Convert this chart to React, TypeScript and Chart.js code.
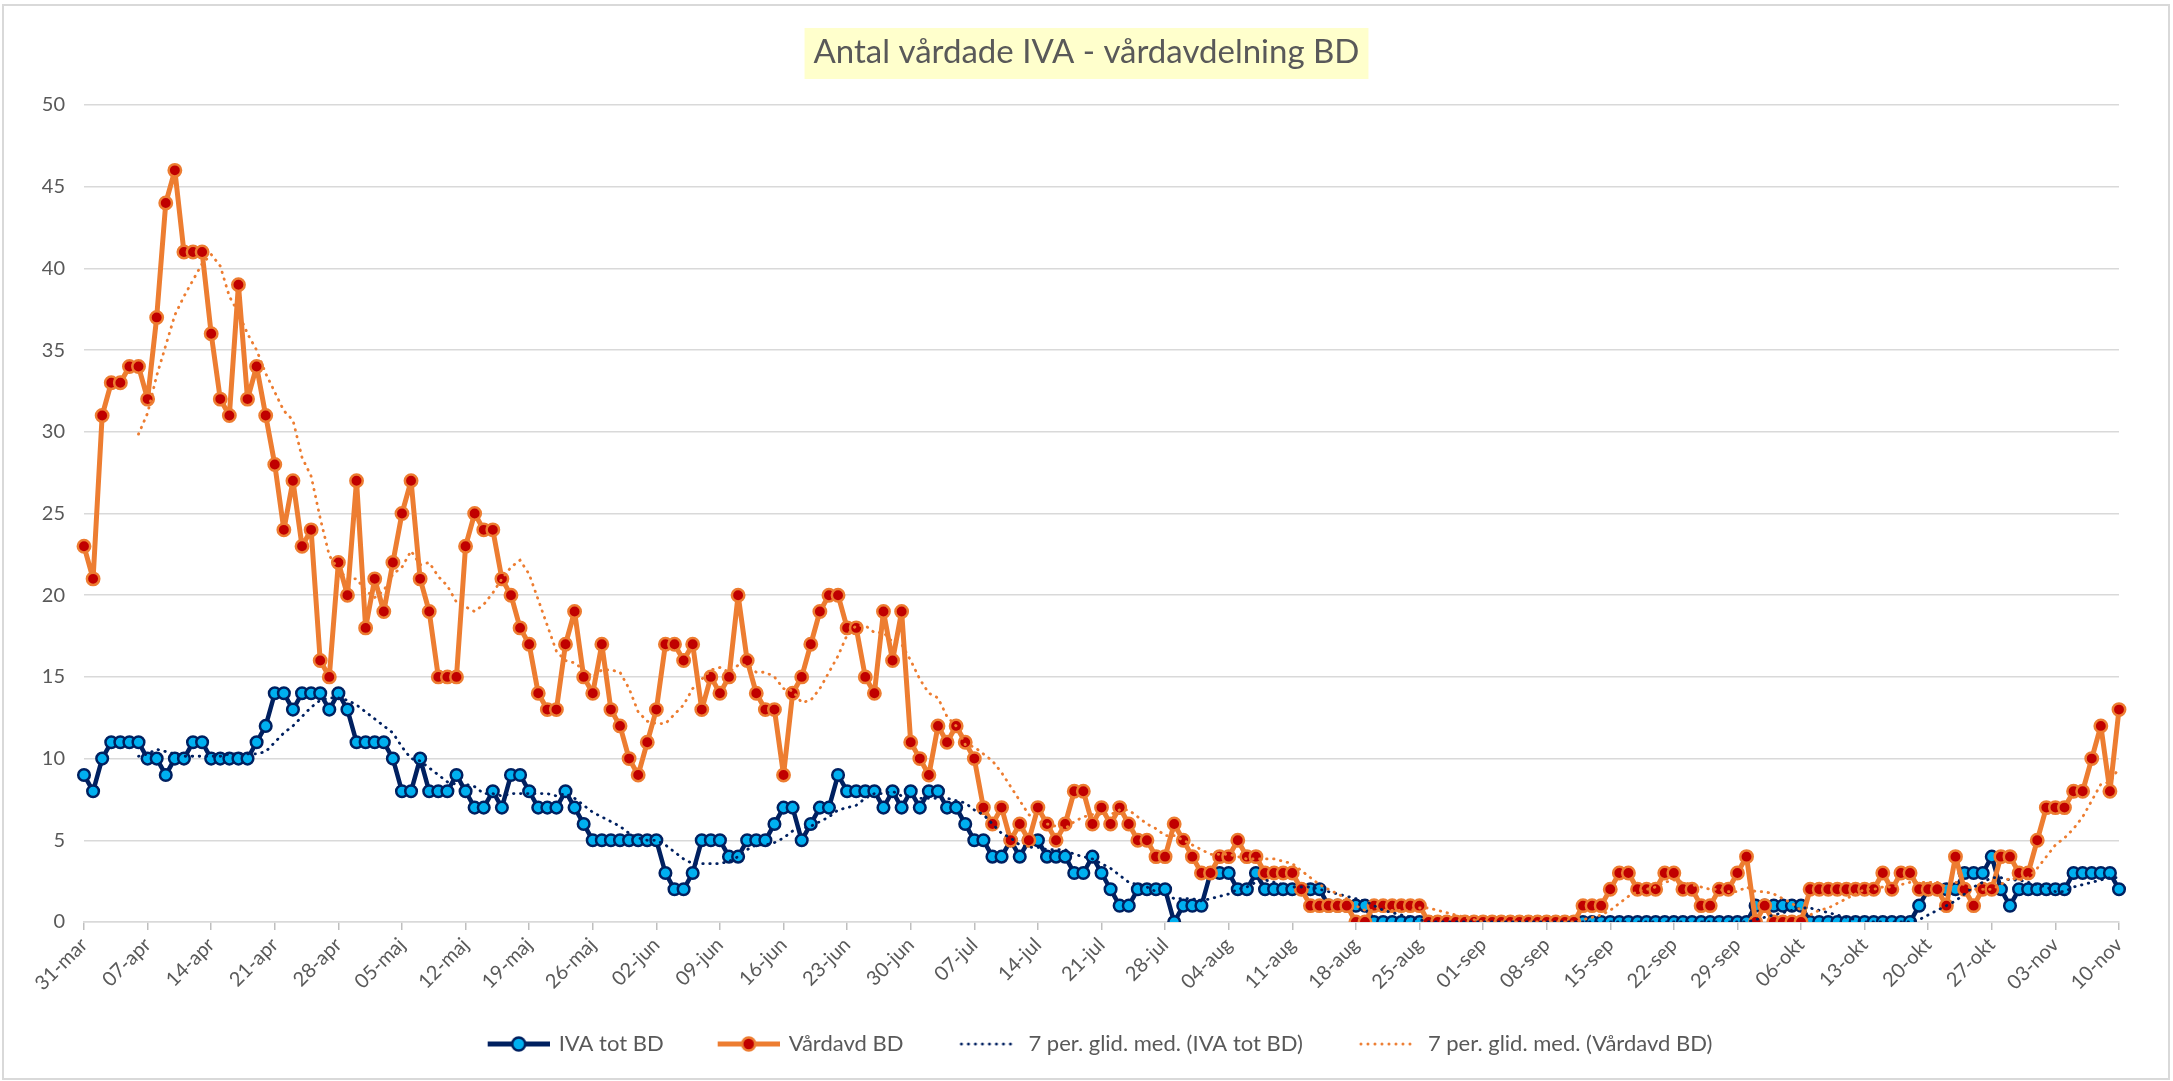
import React, { useEffect, useRef } from 'react';
import { Chart, registerables } from 'chart.js';

Chart.register(...registerables);

const W = 2173;
const H = 1081;
const FONT = 'Lato';
const TEXT_COLOR = '#595959';
const GRID_COLOR = '#D9D9D9';

const TITLE = 'Antal vårdade IVA - vårdavdelning BD';
const SERIES_NAMES = ['IVA tot BD', 'Vårdavd BD', '7 per. glid. med. (IVA tot BD)', '7 per. glid. med. (Vårdavd BD)'];
const MONTHS = ['jan', 'feb', 'mar', 'apr', 'maj', 'jun', 'jul', 'aug', 'sep', 'okt', 'nov', 'dec'];
const FIRST_DATE = [2020, 2, 31];
const TICK_EVERY = 7;
const MA_PERIOD = 7;
const Y_MIN = 0;
const Y_MAX = 50;
const Y_STEP = 5;

// IVA tot BD, daily from 31-mar to 10-nov
const IVA_TOT_BD = [
  9, 8, 10, 11, 11, 11, 11, 10, 10, 9,
  10, 10, 11, 11, 10, 10, 10, 10, 10, 11,
  12, 14, 14, 13, 14, 14, 14, 13, 14, 13,
  11, 11, 11, 11, 10, 8, 8, 10, 8, 8,
  8, 9, 8, 7, 7, 8, 7, 9, 9, 8,
  7, 7, 7, 8, 7, 6, 5, 5, 5, 5,
  5, 5, 5, 5, 3, 2, 2, 3, 5, 5,
  5, 4, 4, 5, 5, 5, 6, 7, 7, 5,
  6, 7, 7, 9, 8, 8, 8, 8, 7, 8,
  7, 8, 7, 8, 8, 7, 7, 6, 5, 5,
  4, 4, 5, 4, 5, 5, 4, 4, 4, 3,
  3, 4, 3, 2, 1, 1, 2, 2, 2, 2,
  0, 1, 1, 1, 3, 3, 3, 2, 2, 3,
  2, 2, 2, 2, 2, 2, 2, 1, 1, 1,
  1, 1, 0, 0, 0, 0, 0, 0, 0, 0,
  0, 0, 0, 0, 0, 0, 0, 0, 0, 0,
  0, 0, 0, 0, 0, 0, 0, 0, 0, 0,
  0, 0, 0, 0, 0, 0, 0, 0, 0, 0,
  0, 0, 0, 0, 1, 1, 1, 1, 1, 1,
  0, 0, 0, 0, 0, 0, 0, 0, 0, 0,
  0, 0, 1, 2, 2, 2, 2, 3, 3, 3,
  4, 2, 1, 2, 2, 2, 2, 2, 2, 3,
  3, 3, 3, 3, 2,
];

// Vårdavd BD, daily from 31-mar to 10-nov
const VARDAVD_BD = [
  23, 21, 31, 33, 33, 34, 34, 32, 37, 44,
  46, 41, 41, 41, 36, 32, 31, 39, 32, 34,
  31, 28, 24, 27, 23, 24, 16, 15, 22, 20,
  27, 18, 21, 19, 22, 25, 27, 21, 19, 15,
  15, 15, 23, 25, 24, 24, 21, 20, 18, 17,
  14, 13, 13, 17, 19, 15, 14, 17, 13, 12,
  10, 9, 11, 13, 17, 17, 16, 17, 13, 15,
  14, 15, 20, 16, 14, 13, 13, 9, 14, 15,
  17, 19, 20, 20, 18, 18, 15, 14, 19, 16,
  19, 11, 10, 9, 12, 11, 12, 11, 10, 7,
  6, 7, 5, 6, 5, 7, 6, 5, 6, 8,
  8, 6, 7, 6, 7, 6, 5, 5, 4, 4,
  6, 5, 4, 3, 3, 4, 4, 5, 4, 4,
  3, 3, 3, 3, 2, 1, 1, 1, 1, 1,
  0, 0, 1, 1, 1, 1, 1, 1, 0, 0,
  0, 0, 0, 0, 0, 0, 0, 0, 0, 0,
  0, 0, 0, 0, 0, 1, 1, 1, 2, 3,
  3, 2, 2, 2, 3, 3, 2, 2, 1, 1,
  2, 2, 3, 4, 0, 1, 0, 0, 0, 0,
  2, 2, 2, 2, 2, 2, 2, 2, 3, 2,
  3, 3, 2, 2, 2, 1, 4, 2, 1, 2,
  2, 4, 4, 3, 3, 5, 7, 7, 7, 8,
  8, 10, 12, 8, 13,
];

const CATEGORIES = IVA_TOT_BD.map((_, i) => {
  const d = new Date(FIRST_DATE[0], FIRST_DATE[1], FIRST_DATE[2] + i);
  return `${String(d.getDate()).padStart(2, '0')}-${MONTHS[d.getMonth()]}`;
});

// Excel-style trailing moving average trendline
function movingAverage(values: number[], period: number): (number | null)[] {
  return values.map((_, i) => {
    if (i < period - 1) return null;
    let s = 0;
    for (let k = i - period + 1; k <= i; k++) s += values[k];
    return s / period;
  });
}

const ICON_GAP = 29;
const ICON_SYMBOL_W = 62;

function makeIcon(line: string, fill: string | null, stroke: string | null, dotted: boolean): HTMLCanvasElement {
  const c = document.createElement('canvas');
  c.width = ICON_GAP + ICON_SYMBOL_W;
  c.height = 22;
  const g = c.getContext('2d')!;
  const x0 = ICON_GAP;
  if (dotted) {
    g.fillStyle = line;
    for (let x = x0 + 4; x <= x0 + 58; x += 7) {
      g.beginPath();
      g.arc(x, 11, 1.5, 0, Math.PI * 2);
      g.fill();
    }
  } else {
    g.strokeStyle = line;
    g.lineWidth = 5;
    g.beginPath();
    g.moveTo(x0, 11);
    g.lineTo(x0 + ICON_SYMBOL_W, 11);
    g.stroke();
    g.beginPath();
    g.arc(x0 + ICON_SYMBOL_W / 2, 11, 6.5, 0, Math.PI * 2);
    g.fillStyle = fill || line;
    g.fill();
    g.lineWidth = 2.5;
    g.strokeStyle = stroke || line;
    g.stroke();
  }
  return c;
}

export default function App() {
  const ref = useRef<HTMLCanvasElement>(null);

  useEffect(() => {
    const canvas = ref.current;
    if (!canvas) return;

    const icons = [
      makeIcon('#002060', '#00B0F0', '#002060', false),
      makeIcon('#ED7D31', '#C00000', '#ED7D31', false),
      makeIcon('#002060', null, null, true),
      makeIcon('#ED7D31', null, null, true),
    ];

    const frame = {
      id: 'frame',
      beforeDraw(chart: any) {
        const c = chart.ctx;
        c.save();
        c.fillStyle = '#ffffff';
        c.fillRect(0, 0, W, H);
        c.strokeStyle = '#D9D9D9';
        c.lineWidth = 2;
        c.strokeRect(3, 5, W - 7, H - 7);
        const tb = chart.titleBlock;
        c.font = `normal 33px ${FONT}`;
        const tw = c.measureText(TITLE).width;
        const cx = (tb.left + tb.right) / 2;
        c.fillStyle = '#FFFFCC';
        c.fillRect(cx - tw / 2 - 9, 28, tw + 18, 51);
        c.restore();
      },
    };

    const chart = new Chart(canvas, {
      type: 'line',
      data: {
        labels: CATEGORIES,
        datasets: [
          {
            label: SERIES_NAMES[0],
            data: IVA_TOT_BD,
            borderColor: '#002060',
            backgroundColor: '#00B0F0',
            borderWidth: 4.5,
            borderJoinStyle: 'round',
            borderCapStyle: 'round',
            pointRadius: 5.8,
            pointBorderWidth: 2.5,
            pointBackgroundColor: '#00B0F0',
            pointBorderColor: '#002060',
            tension: 0,
            order: 4,
          },
          {
            label: SERIES_NAMES[1],
            data: VARDAVD_BD,
            borderColor: '#ED7D31',
            backgroundColor: '#C00000',
            borderWidth: 5,
            borderJoinStyle: 'round',
            borderCapStyle: 'round',
            pointRadius: 6.2,
            pointBorderWidth: 2.5,
            pointBackgroundColor: '#C00000',
            pointBorderColor: '#ED7D31',
            tension: 0,
            order: 3,
          },
          {
            label: SERIES_NAMES[2],
            data: movingAverage(IVA_TOT_BD, MA_PERIOD),
            borderColor: '#002060',
            borderWidth: 2.8,
            borderDash: [0.5, 6.5],
            borderCapStyle: 'round',
            pointRadius: 0,
            tension: 0,
            order: 2,
          },
          {
            label: SERIES_NAMES[3],
            data: movingAverage(VARDAVD_BD, MA_PERIOD),
            borderColor: '#ED7D31',
            borderWidth: 2.8,
            borderDash: [0.5, 6.5],
            borderCapStyle: 'round',
            pointRadius: 0,
            tension: 0,
            order: 1,
          },
        ],
      },
      options: {
        responsive: false,
        animation: false,
        devicePixelRatio: 1,
        events: [],
        layout: { padding: { left: 0, right: 0, top: 0, bottom: 16 } },
        plugins: {
          title: {
            display: true,
            text: TITLE,
            color: TEXT_COLOR,
            font: { family: FONT, size: 33, weight: 'normal', lineHeight: 1.2 },
            padding: { top: 33, bottom: 32.4 },
          },
          legend: {
            display: true,
            position: 'bottom',
            labels: {
              usePointStyle: true,
              pointStyleWidth: ICON_GAP + ICON_SYMBOL_W - 4,
              color: TEXT_COLOR,
              font: { family: FONT, size: 22 },
              padding: 27,
              sort: (a: any, b: any) => a.datasetIndex - b.datasetIndex,
              generateLabels: (ch: any) => {
                const items = (Chart.defaults.plugins.legend.labels as any).generateLabels(ch);
                return items.map((it: any) => ({ ...it, pointStyle: icons[it.datasetIndex] }));
              },
            },
          },
          tooltip: { enabled: false },
        },
        scales: {
          x: {
            type: 'category',
            offset: false,
            grid: {
              display: true,
              drawOnChartArea: false,
              drawTicks: true,
              tickLength: 8,
              lineWidth: 1.5,
              color: (c: any) => (c.index % TICK_EVERY === 0 ? '#BFBFBF' : 'rgba(0,0,0,0)'),
            },
            border: { display: true, color: GRID_COLOR, width: 1.5 },
            ticks: {
              autoSkip: false,
              minRotation: 45,
              maxRotation: 45,
              padding: 3,
              color: TEXT_COLOR,
              font: { family: FONT, size: 20 },
              callback: (_v: any, i: number) => (i % TICK_EVERY === 0 ? CATEGORIES[i] : ''),
            },
            afterFit: (s: any) => {
              s.height = 84;
            },
          },
          y: {
            type: 'linear',
            position: 'left',
            min: Y_MIN,
            max: Y_MAX,
            ticks: {
              stepSize: Y_STEP,
              padding: 19,
              color: TEXT_COLOR,
              font: { family: FONT, size: 20 },
            },
            grid: { color: GRID_COLOR, lineWidth: 1.5, drawTicks: false },
            border: { display: false },
            afterFit: (s: any) => {
              s.width = 84;
            },
          },
          yRight: {
            type: 'linear',
            position: 'right',
            display: true,
            min: Y_MIN,
            max: Y_MAX,
            grid: { display: false, drawTicks: false },
            ticks: { display: false },
            border: { display: false },
            afterFit: (s: any) => {
              s.width = 54;
            },
          },
        },
      },
      plugins: [frame],
    } as any);

    return () => chart.destroy();
  }, []);

  return (
    <div style={{ position: 'fixed', left: 0, top: 0, width: W, height: H, background: '#ffffff' }}>
      <canvas ref={ref} width={W} height={H} style={{ width: W, height: H, display: 'block' }} />
    </div>
  );
}
